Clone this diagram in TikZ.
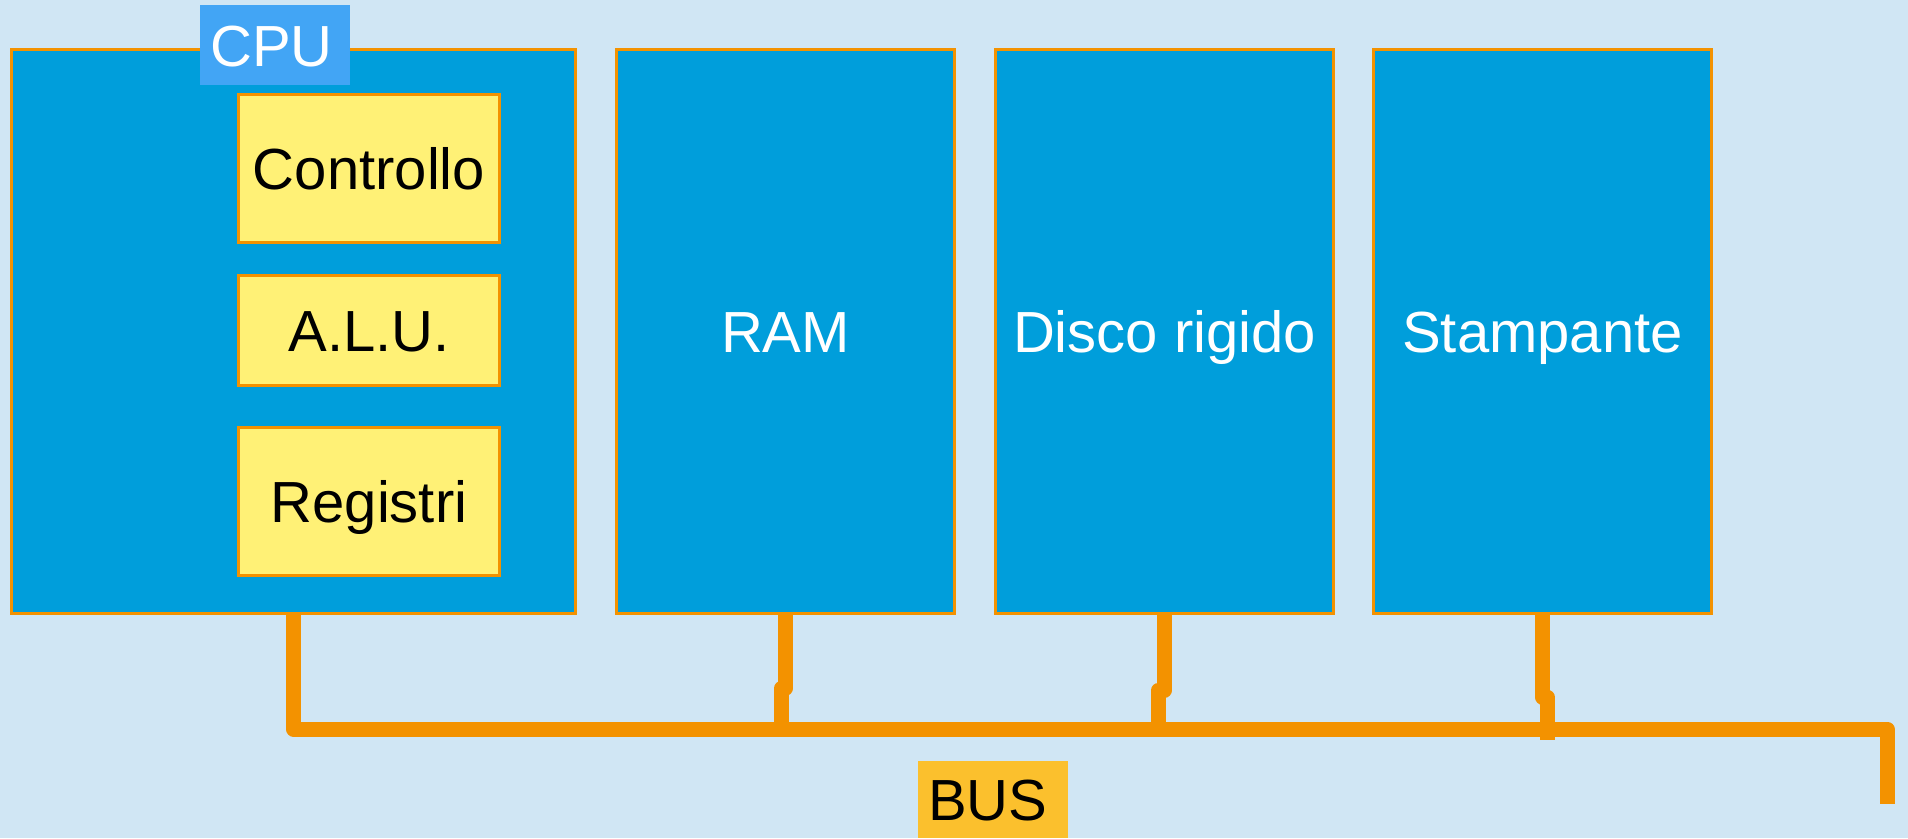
\documentclass[tikz,border=0pt]{standalone}
\usepackage{fontspec}
\setmainfont{Liberation Sans}
\usetikzlibrary{positioning}

\definecolor{sfondo}{HTML}{D0E6F4}
\definecolor{blu}{HTML}{009EDB}
\definecolor{arancio}{HTML}{F39200}
\definecolor{giallo}{HTML}{FFF176}
\definecolor{celeste}{HTML}{42A5F5}
\definecolor{ocra}{HTML}{FBC02D}

\newcommand{\schemafont}{\fontsize{58}{70}\selectfont}

\begin{document}
\begin{tikzpicture}[x=1pt, y=-1pt,
	unit/.style={draw=arancio, line width=3pt, fill=blu, text=white, anchor=north west,
		minimum width=338pt, minimum height=564pt, inner sep=4pt,
		text height=42pt, text depth=0pt, font=\schemafont},
	part/.style={draw=arancio, line width=3pt, fill=giallo, anchor=north west,
		minimum width=261pt, inner sep=4pt,
		text height=42pt, text depth=0pt, font=\schemafont},
	tag/.style={anchor=north west, inner xsep=10pt, inner ysep=0pt, text width=130pt,
		align=left, text height=42pt, text depth=0pt, font=\schemafont},
	wire/.style={draw=arancio, line width=15pt, line join=round}]

% background
\fill[sfondo] (0,0) rectangle (1908,838);
\useasboundingbox (0,0) rectangle (1908,838);

% units
\node[unit, minimum width=564pt] (cpu) at (10,48) {};
\node[unit] (ram)		at (615,48)	{RAM};
\node[unit] (disco)		at (994,48)	{Disco rigido};
\node[unit] (stampante)	at (1372,48)	{Stampante};

% parts of the cpu
\node[part, minimum height=148pt] (controllo)	at (237,92.5)	{Controllo};
\node[part, minimum height=110pt] (alu)		at (237,274)	{A.L.U.};
\node[part, minimum height=148pt] (registri)	at (237,426)	{Registri};

% labels
\node[tag, fill=celeste, text=white, minimum height=80pt] (cpulabel) at (200,5) {CPU};
\node[tag, fill=ocra, minimum height=77pt] (buslabel) at (918,761) {BUS};

% bus
\coordinate (buscorner) at (1887,729);
\coordinate (busend) at (1887,804);
\draw[wire] (cpu.south) |- (buscorner) -- (busend);

% links to the bus
\draw[wire] (ram.south) -- ++(0,73) -- ++(-4,0) -- ++(0,41);
\draw[wire] (disco.south) -- ++(0,75) -- ++(-6,0) -- ++(0,39);
\draw[wire] (stampante.south) -- ++(0,82) -- ++(5,0) -- ++(0,43);

\end{tikzpicture}
\end{document}
